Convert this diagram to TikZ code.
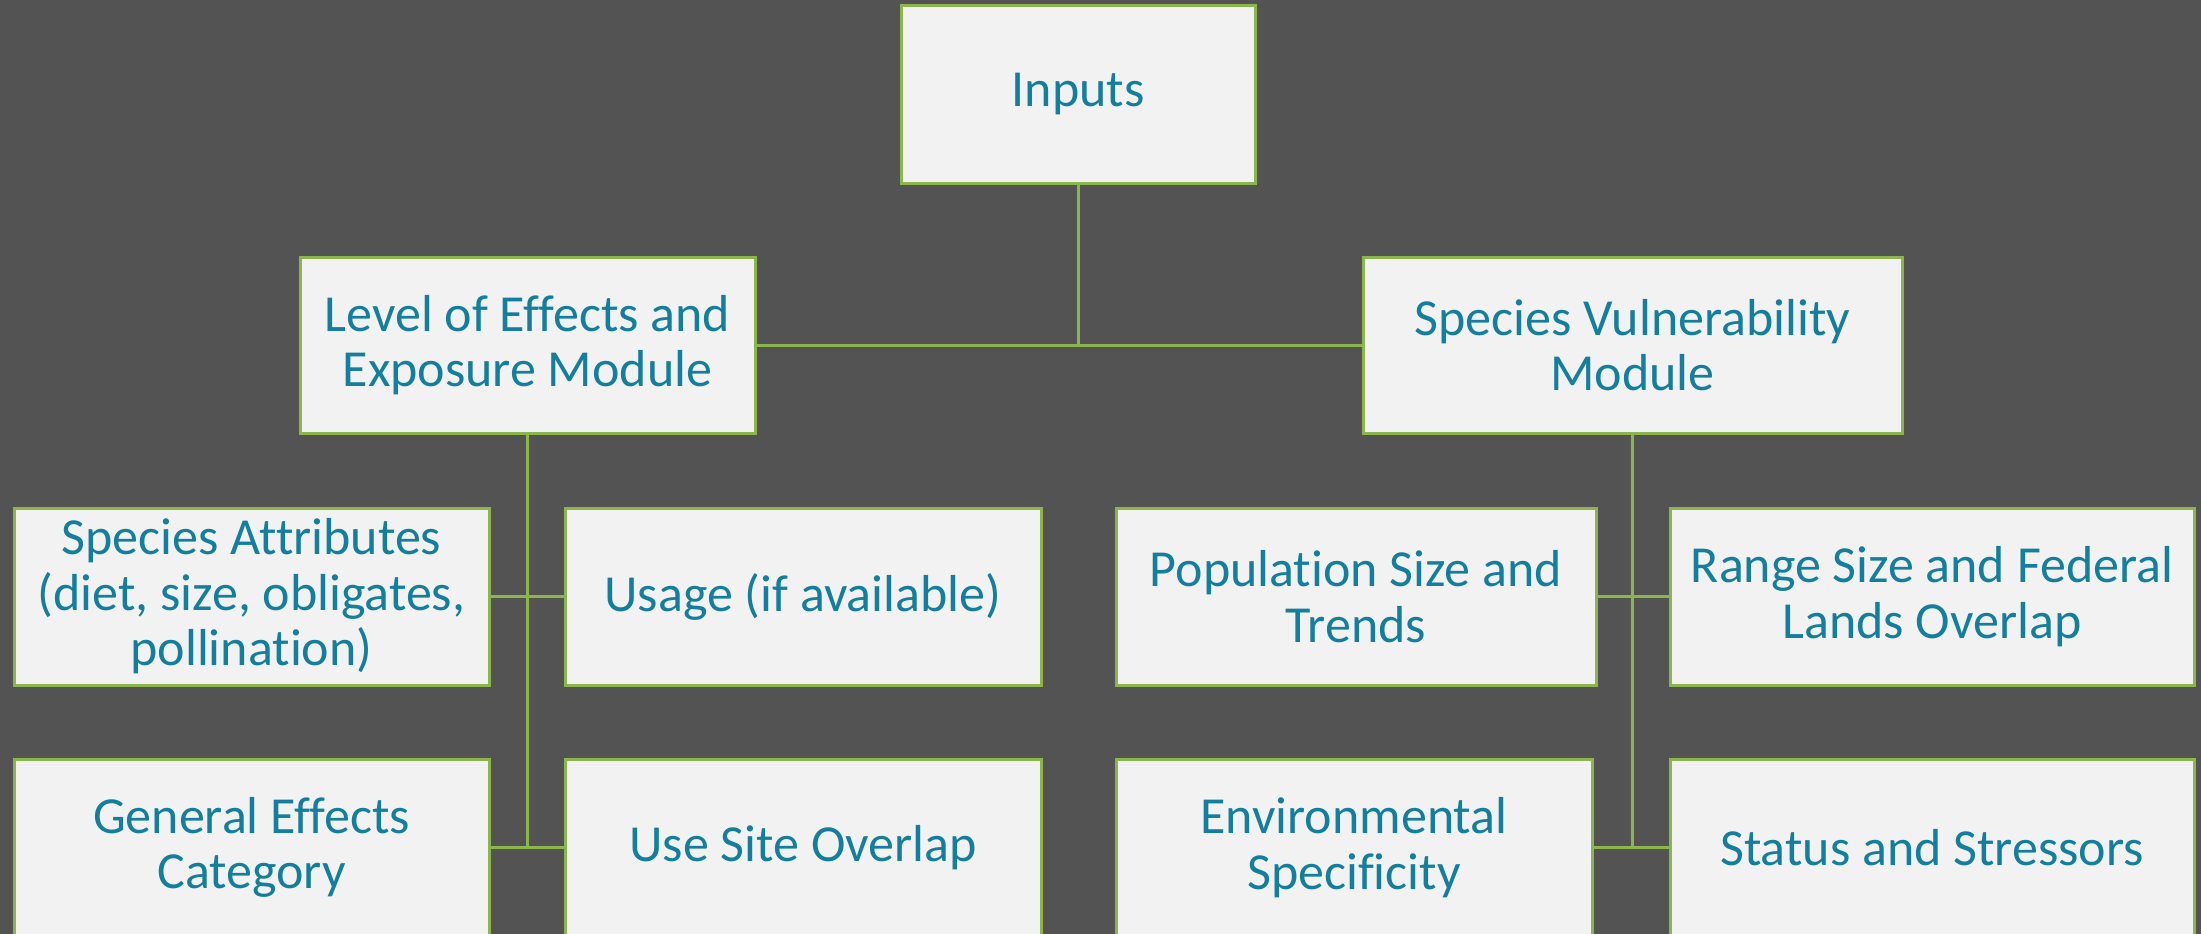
\documentclass[tikz,border=0pt]{standalone}
\usepackage{fontspec}
\setmainfont{Carlito}[Ligatures=NoCommon]
\definecolor{bg}{HTML}{535353}
\definecolor{boxfill}{HTML}{F2F2F2}
\definecolor{edge}{HTML}{8DB54E}
\definecolor{txt}{HTML}{137E9E}
\tikzset{
  box/.style={draw=edge, line width=3pt, fill=boxfill, text=txt, align=center,
    inner sep=0pt, font=\fontsize{52}{55.5}\selectfont},
  link/.style={draw=edge, line width=3pt}
}
\newcommand{\bx}[6]{% name, x1, y1, x2, y2, text
  \node[box, minimum width={#4-#2}, minimum height={#5-#3}] (#1) at ({(#2+#4)/2},{(#3+#5)/2}) {#6};}
\begin{document}
\begin{tikzpicture}[x=1pt,y=-1pt]
\fill[bg] (0,0) rectangle (2201,934);
\useasboundingbox (0,0) rectangle (2201,934);
\bx{inputs}{901}{6}{1255}{183}{Inputs}
\bx{level}{300}{257}{755}{433}{Level of Effects and\\Exposure Module}
\bx{spv}{1363}{257}{1902}{433}{Species Vulnerability\\Module}
\bx{sa}{14}{508}{489}{685}{Species Attributes\\(diet, size, obligates,\\pollination)}
\bx{usage}{565}{508}{1041}{685}{Usage (if available)}
\bx{pop}{1116}{508}{1596}{685}{Population Size and\\Trends}
\bx{range}{1670}{508}{2194}{685}{Range Size and Federal\\Lands Overlap}
\bx{gen}{14}{759}{489}{936}{General Effects\\Category}
\bx{use}{565}{759}{1041}{936}{Use Site Overlap}
\bx{env}{1116}{759}{1592}{936}{Environmental\\Specificity}
\bx{status}{1670}{759}{2194}{936}{Status and Stressors}
\draw[link] (inputs.south) -- (inputs.south |- level.east);
\draw[link] (level.east) -- (spv.west);
\draw[link] (level.south) -- (level.south |- gen.east);
\draw[link] (sa.east) -- (usage.west);
\draw[link] (gen.east) -- (use.west);
\draw[link] (spv.south) -- (spv.south |- env.east);
\draw[link] (pop.east) -- (range.west);
\draw[link] (env.east) -- (status.west);
\end{tikzpicture}
\end{document}
